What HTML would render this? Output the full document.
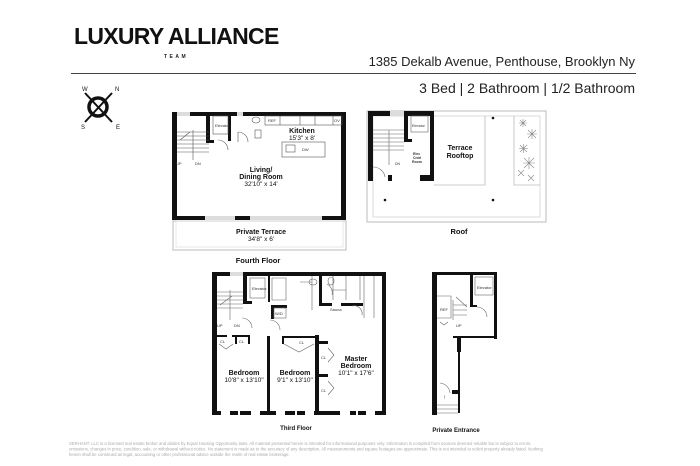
<!DOCTYPE html>
<html><head><meta charset="utf-8"><style>
html,body{margin:0;padding:0;background:#fff;width:700px;height:466px;overflow:hidden}
svg{display:block}
text{font-family:"Liberation Sans",sans-serif}
</style></head><body>
<svg width="700" height="466" viewBox="0 0 700 466" xmlns="http://www.w3.org/2000/svg">
<!-- header -->
<text x="74" y="44" font-size="23" font-weight="bold" letter-spacing="-0.7" fill="#111">LUXURY ALLIANCE</text>
<text x="164" y="58" font-size="5" font-weight="bold" letter-spacing="2.5" fill="#222">TEAM</text>
<text x="635" y="66" font-size="13" text-anchor="end" fill="#222">1385 Dekalb Avenue, Penthouse, Brooklyn Ny</text>
<line x1="71" y1="73.5" x2="636" y2="73.5" stroke="#444" stroke-width="1"/>
<text x="635" y="93" font-size="14" text-anchor="end" fill="#222">3 Bed | 2 Bathroom | 1/2 Bathroom</text>
<!-- compass -->
<g fill="#111">
<circle cx="98" cy="107" r="9" fill="none" stroke="#111" stroke-width="3.5"/>
<line x1="85" y1="93" x2="112" y2="122" stroke="#111" stroke-width="2"/>
<line x1="112" y1="93" x2="85" y2="122" stroke="#111" stroke-width="2"/>
<text x="82" y="91" font-size="6" font-family="Liberation Serif">W</text>
<text x="115" y="91" font-size="6" font-family="Liberation Serif">N</text>
<text x="81" y="129" font-size="6" font-family="Liberation Serif">S</text>
<text x="116" y="129" font-size="6" font-family="Liberation Serif">E</text>
</g>

<!-- FOURTH FLOOR -->
<g>
<rect x="173" y="221" width="173" height="29" fill="none" stroke="#bbb" stroke-width="1"/>
<rect x="176" y="221" width="167" height="26" fill="none" stroke="#ddd" stroke-width="0.7"/>
<g fill="#111">
<rect x="172" y="112" width="5" height="108"/>
<rect x="341" y="112" width="5" height="108"/>
<rect x="190" y="112" width="47" height="4"/>
<rect x="243" y="112" width="103" height="4"/>
<rect x="172" y="216" width="33" height="4"/>
<rect x="235" y="216" width="15" height="4"/>
<rect x="322" y="216" width="24" height="4"/>
<rect x="206" y="112" width="4" height="31"/>
<rect x="228" y="112" width="3" height="29"/>
<rect x="206" y="140" width="8" height="3"/>
</g>
<rect x="177" y="112" width="13" height="4" fill="#ddd"/>
<rect x="237" y="112" width="6" height="4" fill="#ddd"/>
<rect x="205" y="216" width="30" height="4" fill="#ddd"/>
<rect x="250" y="216" width="72" height="4" fill="#ddd"/>
<g fill="none" stroke="#555" stroke-width="0.6">
<rect x="213" y="116" width="15" height="18"/>
<path d="M177 132 L209 132 M177 136 L209 136 M177 140 L209 140 M177 144 L209 144 M177 148 L209 148 M177 152 L209 152 M193 130 L193 160 M180 140 L190 132"/>
<rect x="265" y="116" width="77" height="9"/>
<path d="M280 116 V125 M300 116 V125 M315 116 V125 M333 116 V125"/>
<rect x="282" y="142" width="43" height="15"/>
<rect x="286" y="145" width="9" height="7"/>
<path d="M218 140 A10 10 0 0 1 228 150 M238 132 A10 10 0 0 1 248 142 M238 132 V142"/>
<ellipse cx="256" cy="120" rx="4" ry="3"/>
<rect x="255" y="130" width="6" height="8"/>
</g>
<g fill="#333" font-size="4">
<text x="215" y="127">Elevator</text>
<text x="268" y="122">REF</text>
<text x="334" y="122">OV</text>
<text x="302" y="151">DW</text>
<text x="176" y="165">UP</text>
<text x="195" y="165">DN</text>
</g>
<g text-anchor="middle" fill="#111">
<text x="302" y="133" font-size="7" font-weight="bold">Kitchen</text>
<text x="302" y="140" font-size="6.5">15'3" x 8'</text>
<text x="261" y="172" font-size="7" font-weight="bold">Living/</text>
<text x="261" y="179" font-size="7" font-weight="bold">Dining Room</text>
<text x="261" y="186" font-size="6.5">32'10" x 14'</text>
<text x="261" y="234" font-size="7" font-weight="bold">Private Terrace</text>
<text x="261" y="241" font-size="6.5">34'8" x 6'</text>
<text x="258" y="263" font-size="7.5" font-weight="bold">Fourth Floor</text>
</g>
</g>

<!-- ROOF -->
<g>
<rect x="367" y="111" width="179" height="111" fill="none" stroke="#bbb" stroke-width="1"/>
<rect x="373" y="116" width="167" height="101" fill="none" stroke="#ccc" stroke-width="0.7"/>
<path d="M434 185 H485 V116 M514 116 V185 H540" fill="none" stroke="#bbb" stroke-width="0.8"/>
<g fill="#111">
<rect x="368" y="111" width="5" height="70"/>
<rect x="368" y="111" width="22" height="5"/>
<rect x="404" y="111" width="30" height="5"/>
<rect x="404" y="111" width="4" height="30"/>
<rect x="430" y="111" width="4" height="70"/>
<rect x="404" y="139" width="8" height="3"/>
<rect x="388" y="175" width="4" height="6"/>
<rect x="420" y="175" width="14" height="6"/>
<circle cx="493" cy="118" r="1.3"/><circle cx="385" cy="200" r="1.3"/><circle cx="493" cy="200" r="1.3"/>
</g>
<rect x="390" y="111" width="14" height="5" fill="#ddd"/>
<g fill="none" stroke="#666" stroke-width="0.6">
<rect x="411" y="116" width="17" height="16"/>
<path d="M373 130 H404 M373 134 H404 M373 138 H404 M373 142 H404 M373 146 H404 M373 150 H404 M389 130 V165 M373 167 A12 12 0 0 1 385 177"/>
<g stroke="#888">
<path d="M520 120 l6 6 m0 -6 l-6 6 m3 -7 v8 m-4 -4 h8"/>
<path d="M528 130 l8 8 m0 -8 l-8 8 m4 -9 v10 m-5 -5 h10"/>
<path d="M520 145 l7 7 m0 -7 l-7 7 m3.5 -8 v9 m-4.5 -4.5 h9"/>
<path d="M524 158 l10 10 m0 -10 l-10 10 m5 -11 v12 m-6 -6 h12"/>
<path d="M518 170 l6 6 m0 -6 l-6 6"/>
<path d="M528 175 l6 6 m0 -6 l-6 6"/>
</g>
</g>
<g fill="#333" font-size="3.5">
<text x="412" y="127">Elevator</text>
<text x="395" y="165">DN</text>
<text x="413" y="155" font-weight="bold">Elec</text>
<text x="413" y="159" font-weight="bold">Cntrl</text>
<text x="412" y="163" font-weight="bold">Room</text>
</g>
<g text-anchor="middle" fill="#111">
<text x="460" y="150" font-size="7" font-weight="bold">Terrace</text>
<text x="460" y="158" font-size="7" font-weight="bold">Rooftop</text>
<text x="459" y="234" font-size="7.5" font-weight="bold">Roof</text>
</g>
</g>

<!-- THIRD FLOOR -->
<g>
<g fill="#111">
<rect x="212" y="272" width="5" height="143"/>
<rect x="382" y="272" width="4" height="143"/>
<rect x="212" y="272" width="18" height="4"/>
<rect x="243" y="272" width="143" height="4"/>
<rect x="212" y="411" width="9" height="4"/>
<rect x="230" y="411" width="8" height="4"/>
<rect x="240" y="411" width="11" height="4"/>
<rect x="260" y="411" width="16" height="4"/>
<rect x="285" y="411" width="10" height="4"/>
<rect x="297" y="411" width="8" height="4"/>
<rect x="314" y="411" width="26" height="4"/>
<rect x="350" y="411" width="6" height="4"/>
<rect x="358" y="411" width="8" height="4"/>
<rect x="375" y="411" width="11" height="4"/>
<rect x="243" y="272" width="4" height="32"/>
<rect x="243" y="301" width="9" height="3"/>
<rect x="268" y="272" width="2" height="30"/>
<rect x="271" y="305" width="16" height="3"/>
<rect x="271" y="305" width="3" height="14"/>
<rect x="319" y="276" width="3" height="30"/>
<rect x="322" y="303" width="10" height="3"/>
<rect x="341" y="303" width="22" height="3"/>
<rect x="217" y="335" width="10" height="2"/>
<rect x="232" y="335" width="18" height="2"/>
<rect x="248" y="335" width="2" height="9"/>
<rect x="235" y="335" width="2" height="9"/>
<rect x="267" y="336" width="3" height="78"/>
<rect x="282" y="336" width="35" height="2"/>
<rect x="282" y="336" width="2" height="8"/>
<rect x="315" y="335" width="4" height="80"/>
<rect x="319" y="341" width="9" height="3"/>
<rect x="319" y="374" width="9" height="3"/>
</g>
<rect x="230" y="272" width="13" height="4" fill="#ddd"/>
<g fill="none" stroke="#666" stroke-width="0.6">
<rect x="250" y="278" width="15" height="20"/>
<path d="M217 292 H243 M217 296 H243 M217 300 H243 M217 304 H243 M217 308 H243 M230 290 V320 M220 305 L232 296"/>
<rect x="274" y="308" width="12" height="10"/>
<path d="M272 278 H286 V300 H272 Z M312 276 V310 M300 282 h12 M333 276 V300 M346 276 V300 M360 276 V300 M374 276 V318 M364 276 V318 M332 290 H346 V300"/>
<ellipse cx="313" cy="282" rx="4" ry="3"/>
<ellipse cx="331" cy="281" rx="3" ry="4"/>
<path d="M327 284 A10 10 0 0 1 332 295 M352 306 A8 8 0 0 1 362 315 M242 318 A10 10 0 0 1 252 328 M270 320 A10 10 0 0 1 280 330"/>
<path d="M219 344 L226 349 L233 344 M284 344 L299 352 L314 344 M328 348 l6 7 l-6 7 M328 381 l6 7 l-6 7"/>
</g>
<g fill="#333" font-size="4">
<text x="252" y="290">Elevator</text>
<text x="275" y="315">W/D</text>
<text x="330" y="311">Sauna</text>
<text x="220" y="343">CL</text>
<text x="239" y="343">CL</text>
<text x="299" y="344">CL</text>
<text x="321" y="359">CL</text>
<text x="321" y="392">CL</text>
<text x="217" y="327">UP</text>
<text x="234" y="327">DN</text>
</g>
<g text-anchor="middle" fill="#111">
<text x="244" y="375" font-size="7" font-weight="bold">Bedroom</text>
<text x="244" y="382" font-size="6.5">10'8" x 13'10"</text>
<text x="295" y="375" font-size="7" font-weight="bold">Bedroom</text>
<text x="295" y="382" font-size="6.5">9'1" x 13'10"</text>
<text x="356" y="361" font-size="7" font-weight="bold">Master</text>
<text x="356" y="368" font-size="7" font-weight="bold">Bedroom</text>
<text x="356" y="375" font-size="6.5">10'1" x 17'6"</text>
<text x="296" y="430" font-size="6" font-weight="bold">Third Floor</text>
</g>
</g>

<!-- PRIVATE ENTRANCE -->
<g>
<g fill="#111">
<rect x="432" y="272" width="5" height="143"/>
<rect x="432" y="272" width="65" height="3"/>
<rect x="494" y="272" width="3" height="67"/>
<rect x="453" y="336" width="44" height="2"/>
<rect x="457" y="338" width="4" height="14"/>
<rect x="458" y="338" width="2" height="75"/>
<rect x="452" y="390" width="8" height="4"/>
<rect x="470" y="275" width="3" height="32"/>
<rect x="470" y="305" width="7" height="2"/>
</g>
<g fill="none" stroke="#666" stroke-width="0.6">
<rect x="475" y="277" width="18" height="18"/>
<path d="M437 296 H451 V318 H437 M456 297 L467 307 M453 305 H467 M453 310 H467 M453 315 H467 M453 300 V320 M477 307 A10 10 0 0 1 487 317 M440 383 A11 11 0 0 1 450 393 M437 405 H458 M437 409 H458 M437 413 H458 M440 322 L444 325 L448 322"/>
</g>
<g fill="#333" font-size="4">
<text x="477" y="289">Elevator</text>
<text x="440" y="311">REF</text>
<text x="456" y="327">UP</text>
<text x="443" y="399" font-size="6">↑</text>
</g>
<text x="456" y="432" font-size="6" font-weight="bold" text-anchor="middle" fill="#111">Private Entrance</text>
</g>

<!-- disclaimer -->
<g fill="#aaa" font-size="4.25">
<text x="69" y="445">SERHANT. LLC is a licensed real estate broker and abides by Equal Housing Opportunity laws. All material presented herein is intended for informational purposes only. Information is compiled from sources deemed reliable but is subject to errors,</text>
<text x="69" y="450.5">omissions, changes in price, condition, sale, or withdrawal without notice. No statement is made as to the accuracy of any description. All measurements and square footages are approximate. This is not intended to solicit property already listed. Nothing</text>
<text x="69" y="456">herein shall be construed as legal, accounting or other professional advice outside the realm of real estate brokerage.</text>
</g>
</svg>
</body></html>
